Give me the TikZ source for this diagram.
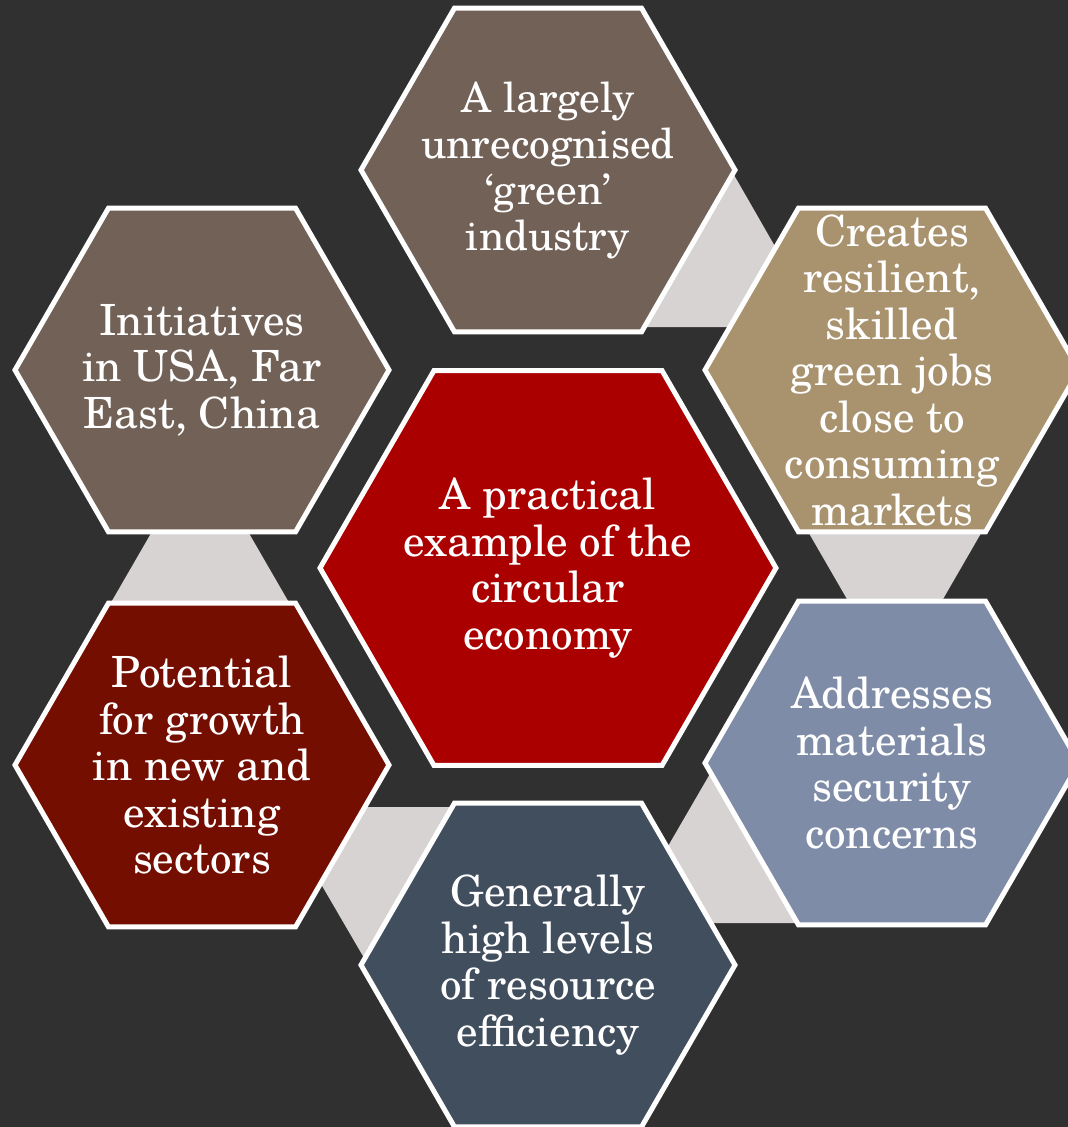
\documentclass[tikz,border=0pt]{standalone}
\usepackage{fontspec}
\setmainfont{TeX Gyre Schola}
\usetikzlibrary{shapes.geometric}
\definecolor{bgc}{HTML}{303030}
\definecolor{brownc}{HTML}{726157}
\definecolor{tanc}{HTML}{A9926E}
\definecolor{bluec}{HTML}{7F8CA7}
\definecolor{slatec}{HTML}{414E5E}
\definecolor{darkredc}{HTML}{730E00}
\definecolor{redc}{HTML}{AA0000}
\definecolor{connc}{HTML}{D6D3D2}
\begin{document}
\begin{tikzpicture}[x=1pt,y=-1pt,
  hexa/.style={regular polygon, regular polygon sides=6, draw=white, line width=5pt,
    inner sep=0pt, outer sep=0pt, minimum size=374pt},
  hextext/.style={text=white, align=center, font=\fontsize{43}{46.5}\selectfont},
  conn/.style={fill=connc}]
\useasboundingbox[fill=bgc] (0,0) rectangle (1068,1127);
\clip (0,0) rectangle (1068,1127);
% connectors (behind the hexagons)
\fill[conn] (158.7,520) -- (241.3,520) -- (296.2,615) -- (103.8,615) -- cycle;
\fill[conn] (801.3,520) -- (988.7,520) -- (933.8,615) -- (856.2,615) -- cycle;
\fill[conn] (730,168) -- (800,290) -- (790,327) -- (640,327) -- cycle;
\fill[conn] (718,760) -- (660,860) -- (700,923) -- (800,923) -- cycle;
\fill[conn] (360,807) -- (460,807) -- (374,975) -- (307,860) -- cycle;
% hexagons
\node[hexa, fill=brownc] (top) at (548,170) {};
\node[hexa, fill=tanc] (rtop) at (892,370) {};
\node[hexa, fill=bluec] (rbot) at (892,763) {};
\node[hexa, fill=slatec] (bot) at (548,965) {};
\node[hexa, fill=darkredc] (lbot) at (202,765) {};
\node[hexa, fill=brownc] (ltop) at (202,370) {};
\node[hexa, fill=redc, minimum size=456pt] (mid) at (548,568) {};
% texts
\node[hextext, font=\fontsize{41.5}{46}\selectfont] (ttop) at (top.center) {A largely\\unrecognised\\‘green’\\industry};
\node[hextext] (trtop) at (rtop.center) {Creates\\resilient,\\skilled\\green jobs\\close to\\consuming\\markets};
\node[hextext] (trbot) at (rbot.center) {Addresses\\materials\\security\\concerns};
\node[hextext] (tbot) at (bot.center) {Generally\\high levels\\of resource\\efficiency};
\node[hextext] (tlbot) at (lbot.center) {Potential\\for growth\\in new and\\existing\\sectors};
\node[hextext] (tltop) at (ltop.center) {Initiatives\\in USA, Far\\East, China};
\node[hextext] (tmid) at (mid.center) {A practical\\example of the\\circular\\economy};
\end{tikzpicture}
\end{document}
